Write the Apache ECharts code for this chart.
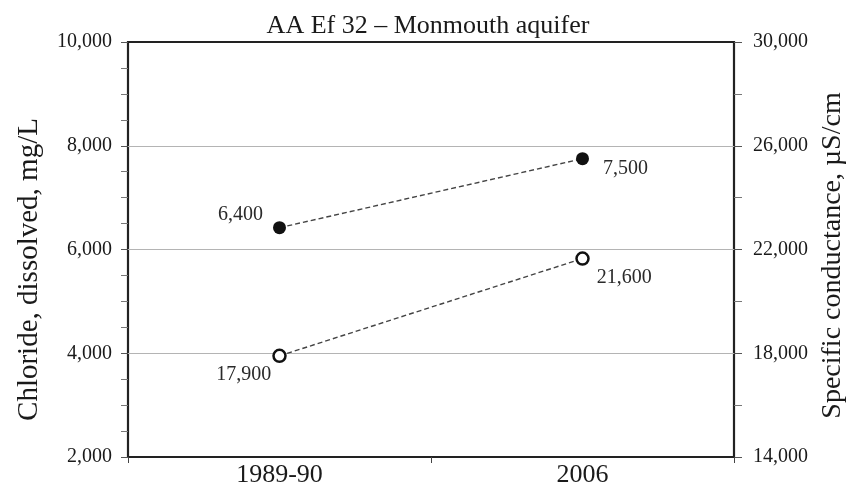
<!DOCTYPE html>
<html>
<head>
<meta charset="utf-8">
<script src="https://cdn.jsdelivr.net/npm/echarts@6/dist/echarts.min.js"></script>
<style>
  html, body { margin: 0; padding: 0; background: #fff; }
  #chart { width: 856px; height: 491px; }
</style>
</head>
<body>
<div id="chart"></div>
<script>
// data
const categories = ['1989-90', '2006'];
const chlorideValues = [6420, 7750];        // where the dots sit on the left axis
const chlorideLabels = ['6,400', '7,500'];  // numbers printed next to the dots
const conductanceValues = [17900, 21650];
const conductanceLabels = ['17,900', '21,600'];

const FONT = "'Liberation Serif', 'Times New Roman', serif";
const INK = '#1a1a1a';

// where each point label sits (style, not data)
const chlorideLabelPos = [
  { position: 'left', distance: 10, offset: [0, -13] },
  { position: 'right', distance: 14, offset: [0, 10] }
];
const conductanceLabelPos = [
  { position: 'left', distance: 1, offset: [0, 19] },
  { position: 'right', distance: 7, offset: [0, 19] }
];

const fmt = (v) => v.toLocaleString('en-US');

const chart = echarts.init(document.getElementById('chart'));

const option = {
  animation: false,
  title: {
    text: 'AA Ef 32 \u2013 Monmouth aquifer',
    left: 'center',
    top: 8,
    textStyle: { fontFamily: FONT, fontSize: 26, fontWeight: 'normal', color: INK }
  },
  grid: {
    left: 128, right: 122, top: 42, bottom: 34,
    show: true,
    borderColor: '#222',
    borderWidth: 2.2,
    backgroundColor: 'transparent'
  },
  xAxis: {
    type: 'category',
    data: categories,
    boundaryGap: true,
    axisLine: { show: false },
    axisTick: { show: true, length: 6, lineStyle: { color: '#444' } },
    axisLabel: { fontFamily: FONT, fontSize: 26, color: INK, margin: 5 },
    splitLine: { show: false }
  },
  yAxis: [
    {
      type: 'value',
      min: 2000, max: 10000, interval: 2000,
      position: 'left',
      name: 'Chloride, dissolved, mg/L',
      nameLocation: 'middle',
      nameRotate: 90,
      nameGap: 84,
      nameTextStyle: { fontFamily: FONT, fontSize: 29, color: INK, padding: [0, 40, 0, 0] },
      axisLine: { show: false },
      axisTick: { show: true, length: 7, lineStyle: { color: '#555' } },
      minorTick: { show: true, splitNumber: 4, length: 7, lineStyle: { color: '#777' } },
      axisLabel: { fontFamily: FONT, fontSize: 20, color: INK, margin: 16, formatter: fmt },
      splitLine: { show: true, showMinLine: false, showMaxLine: false, lineStyle: { color: '#b4b4b4', width: 1 } }
    },
    {
      type: 'value',
      min: 14000, max: 30000, interval: 4000,
      position: 'right',
      name: 'Specific conductance, \u00b5S/cm',
      nameLocation: 'middle',
      nameRotate: 90,
      nameGap: 82,
      nameTextStyle: { fontFamily: FONT, fontSize: 28, color: INK, padding: [0, 12, 0, 0] },
      axisLine: { show: false },
      axisTick: { show: true, length: 8, lineStyle: { color: '#555' } },
      minorTick: { show: true, splitNumber: 2, length: 8, lineStyle: { color: '#777' } },
      axisLabel: { fontFamily: FONT, fontSize: 20, color: INK, margin: 19, formatter: fmt },
      splitLine: { show: false }
    }
  ],
  series: [
    {
      name: 'Chloride',
      type: 'line',
      yAxisIndex: 0,
      data: chlorideValues.map((v, i) => ({ value: v, label: chlorideLabelPos[i] })),
      symbol: 'circle',
      symbolSize: 13,
      itemStyle: { color: '#111' },
      lineStyle: { type: [5, 3], color: '#444', width: 1.4 },
      label: {
        show: true,
        fontFamily: FONT, fontSize: 20, color: '#2a2a2a',
        formatter: (p) => chlorideLabels[p.dataIndex]
      },
      z: 3
    },
    {
      name: 'Specific conductance',
      type: 'line',
      yAxisIndex: 1,
      data: conductanceValues.map((v, i) => ({ value: v, label: conductanceLabelPos[i] })),
      symbol: 'circle',
      symbolSize: 12,
      itemStyle: { color: '#fff', borderColor: '#111', borderWidth: 2.5 },
      lineStyle: { type: [5, 3], color: '#444', width: 1.4 },
      label: {
        show: true,
        fontFamily: FONT, fontSize: 20, color: '#2a2a2a',
        formatter: (p) => conductanceLabels[p.dataIndex]
      },
      z: 3
    }
  ]
};

chart.setOption(option);
</script>
</body>
</html>
